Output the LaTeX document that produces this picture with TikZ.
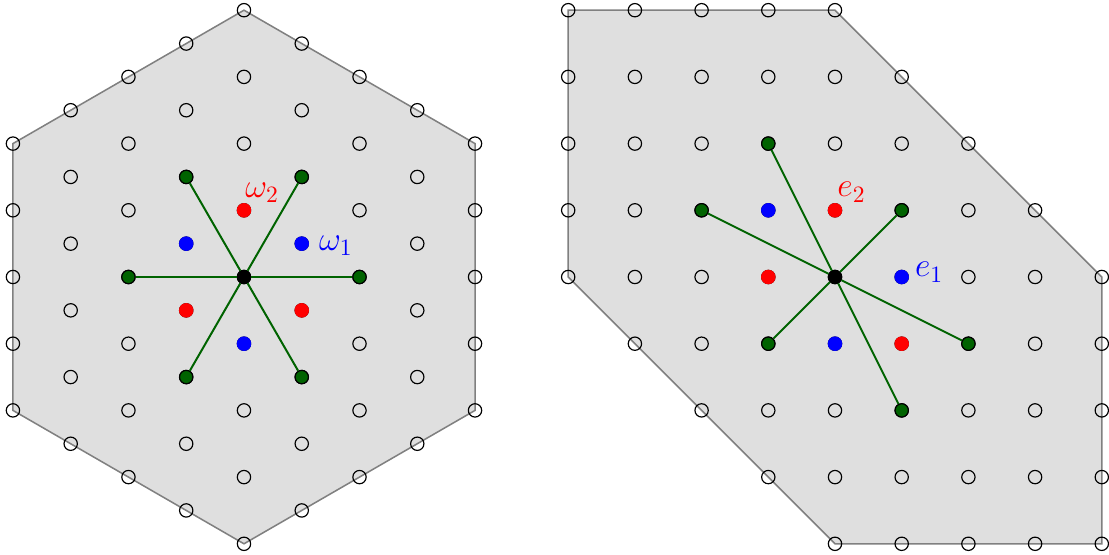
\documentclass[tikz,border=0pt]{standalone}
\usepackage{amsmath}
\usepackage{amssymb}
\usepackage{tikz}
\usetikzlibrary{positioning}
\tikzset{>=stealth}
\usepackage{xcolor}
\definecolor{rootgreen}{rgb}{0,0.39,0}
\tikzset{
	latpt/.style={circle, draw=black, line width=0.5pt, inner sep=0pt, minimum size=0.2cm},
	rootpt/.style={latpt, fill=rootgreen},
	redpt/.style={latpt, draw=red, fill=red},
	bluept/.style={latpt, draw=blue, fill=blue},
	originpt/.style={latpt, fill=black},
	rootline/.style={rootgreen, line width=0.85pt},
	chamber/.style={draw=gray, fill=gray!25, line width=0.65pt},
	wtlabel/.style={inner sep=0pt, anchor=base west, font=\Large},
}

\begin{document}
\begin{tikzpicture}
	\useasboundingbox (-3.658,-4.168) rectangle (12.969,4.153);
	% hexagonal picture
	\begin{scope}[x={(30:1)}, y={(90:1)}]
		\draw [chamber] (4,0) -- (0,4) -- (-4,4) -- (-4,0) -- (0,-4) -- (4,-4) -- cycle;
		\foreach \a in {-4,...,4}
			\foreach \b in {-4,...,4} {
				\pgfmathtruncatemacro{\s}{\a+\b}
				\ifnum\s<5 \ifnum\s>-5
					\node [latpt] (hexpt-\a-\b) at (\a,\b) {};
				\fi\fi
			}
		\node [redpt] (hw2) at (0,1) {};
		\node [redpt] (hr-a) at (-1,0) {};
		\node [redpt] (hr-b) at (1,-1) {};
		\node [bluept] (hw1) at (1,0) {};
		\node [bluept] (hb-a) at (-1,1) {};
		\node [bluept] (hb-b) at (0,-1) {};
		\node [rootpt] (hroot1) at (2,-1) {};
		\node [rootpt] (hroot2) at (1,1) {};
		\node [rootpt] (hroot3) at (-1,2) {};
		\node [rootpt] (hroot4) at (-2,1) {};
		\node [rootpt] (hroot5) at (-1,-1) {};
		\node [rootpt] (hroot6) at (1,-2) {};
		\node [originpt] (horigin) at (0,0) {};
		\foreach \r in {1,...,6}
			\draw [rootline] (horigin) -- (hroot\r);
		\node [wtlabel, text=red, xshift=0.015cm, yshift=0.19cm] (hw2lab) at (hw2) {\(\omega_2\)};
		\node [wtlabel, text=blue, xshift=0.255cm, yshift=-0.1cm] (hw1lab) at (hw1) {\(\omega_1\)};
	\end{scope}
	% square picture
	\begin{scope}[shift={(8.861,0)}]
		\draw [chamber] (4,0) -- (0,4) -- (-4,4) -- (-4,0) -- (0,-4) -- (4,-4) -- cycle;
		\foreach \a in {-4,...,4}
			\foreach \b in {-4,...,4} {
				\pgfmathtruncatemacro{\s}{\a+\b}
				\ifnum\s<5 \ifnum\s>-5
					\node [latpt] (sqpt-\a-\b) at (\a,\b) {};
				\fi\fi
			}
		\node [redpt] (se2) at (0,1) {};
		\node [redpt] (sr-a) at (-1,0) {};
		\node [redpt] (sr-b) at (1,-1) {};
		\node [bluept] (se1) at (1,0) {};
		\node [bluept] (sb-a) at (-1,1) {};
		\node [bluept] (sb-b) at (0,-1) {};
		\node [rootpt] (sroot1) at (2,-1) {};
		\node [rootpt] (sroot2) at (1,1) {};
		\node [rootpt] (sroot3) at (-1,2) {};
		\node [rootpt] (sroot4) at (-2,1) {};
		\node [rootpt] (sroot5) at (-1,-1) {};
		\node [rootpt] (sroot6) at (1,-2) {};
		\node [originpt] (sorigin) at (0,0) {};
		\foreach \r in {1,...,6}
			\draw [rootline] (sorigin) -- (sroot\r);
		\node [wtlabel, text=red, xshift=0.03cm, yshift=0.2cm] (se2lab) at (se2) {\(e_2\)};
		\node [wtlabel, text=blue, xshift=0.195cm, yshift=0cm] (se1lab) at (se1) {\(e_1\)};
	\end{scope}
\end{tikzpicture}
\end{document}
